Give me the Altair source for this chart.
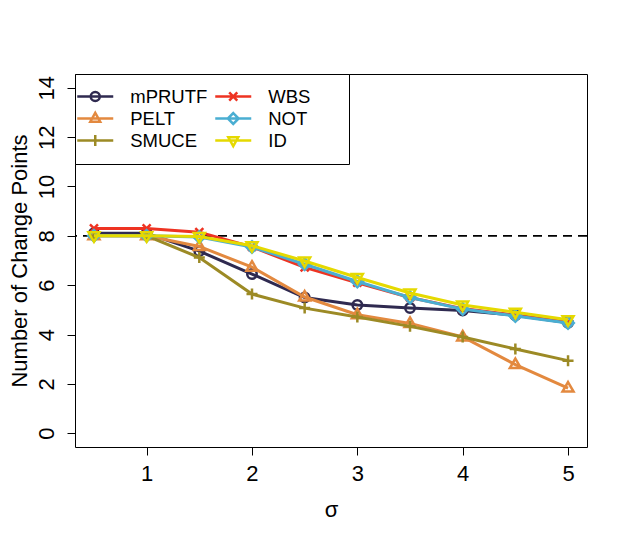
import altair as alt
import pandas as pd

# ---- data ----
sigma = [0.5, 1.0, 1.5, 2.0, 2.5, 3.0, 3.5, 4.0, 4.5, 5.0]
methods = ["mPRUTF", "PELT", "SMUCE", "WBS", "NOT", "ID"]
mprutf = [8.10, 8.10, 7.38, 6.45, 5.50, 5.20, 5.07, 4.97, 4.78, 4.48]
pelt = [8.00, 8.00, 7.57, 6.73, 5.52, 4.80, 4.45, 3.90, 2.78, 1.83]
smuce = [8.00, 8.00, 7.12, 5.64, 5.07, 4.71, 4.33, 3.90, 3.41, 2.94]
wbs = [8.30, 8.30, 8.15, 7.55, 6.72, 6.10, 5.50, 5.05, 4.78, 4.50]
not_ = [8.00, 8.00, 7.95, 7.55, 6.85, 6.15, 5.50, 5.03, 4.75, 4.47]
idm = [8.00, 8.00, 7.97, 7.60, 6.98, 6.31, 5.68, 5.20, 4.90, 4.60]
series = [mprutf, pelt, smuce, wbs, not_, idm]
colors = ["#2F2A50", "#E3893F", "#9C8A25", "#EE3322", "#4AAED2", "#E5D900"]
true_cp = [8]
x_ticks = [1, 2, 3, 4, 5]
y_ticks = [0, 2, 4, 6, 8, 10, 12, 14]

# marker outlines (R pch 1..6)
plot_paths = [
    "M-0.95,0A0.95,0.95 0 1,0 0.95,0A0.95,0.95 0 1,0 -0.95,0Z",
    "M0,-1.2L1.1,0.7L-1.1,0.7Z",
    "M-1.1,0H1.1M0,-1.1V1.1",
    "M-0.8,-0.8L0.8,0.8M-0.8,0.8L0.8,-0.8",
    "M0,-1.15L1.15,0L0,1.15L-1.15,0Z",
    "M0,1.2L1.1,-0.7L-1.1,-0.7Z",
]
legend_paths = [
    "M-2,0H2M-0.5,0A0.5,0.5 0 1,0 0.5,0A0.5,0.5 0 1,0 -0.5,0Z",
    "M-2,0H2M0,-0.62L0.55,0.36L-0.55,0.36Z",
    "M-2,0H2M0,-0.6V0.6",
    "M-2,0H2M-0.45,-0.45L0.45,0.45M-0.45,0.45L0.45,-0.45",
    "M-2,0H2M0,-0.6L0.6,0L0,0.6L-0.6,0Z",
    "M-2,0H2M0,0.62L0.55,-0.36L-0.55,-0.36Z",
]
legend_order = methods  # legend fills column-wise, 3 rows x 2 columns

FONT = "Liberation Sans"
xs = alt.Scale(domain=[0.32, 5.18], nice=False, zero=False)
ys = alt.Scale(domain=[-0.56, 14.56], nice=False, zero=False)
x_axis = alt.Axis(values=x_ticks, title="σ", format="d", titleY=69, titleBaseline="alphabetic",
                  labelPadding=8, labelBaseline="top")
y_axis = alt.Axis(values=y_ticks, title="Number of Change Points", format="d",
                  labelAngle=270, labelAlign="center", labelBaseline="alphabetic",
                  labelPadding=14, titleAngle=270, titleX=-49, titleBaseline="alphabetic")

layers = []
ref = alt.Chart(pd.DataFrame({"y": true_cp})).mark_rule(
    color="black", strokeDash=[9, 6], strokeWidth=1.8
).encode(y=alt.Y("y:Q", scale=ys, axis=y_axis))
layers.append(ref)

for name, vals, col, path in zip(methods, series, colors, plot_paths):
    df = pd.DataFrame({"sigma": sigma, "value": vals, "method": name})
    base = alt.Chart(df).encode(
        x=alt.X("sigma:Q", scale=xs, axis=x_axis),
        y=alt.Y("value:Q", scale=ys, axis=y_axis),
    )
    layers.append(base.mark_line(color=col, strokeWidth=3))
    layers.append(base.mark_point(shape=path, size=100, filled=False, strokeWidth=2.5,
                                  color=col, opacity=1))

leg = alt.Legend(
    title=" ", titleOrient="right", titlePadding=27, titleFontSize=8,
    orient="none", legendX=0, legendY=0, columns=2,
    symbolSize=324, symbolStrokeWidth=2.5, symbolOffset=-2.25, labelOffset=24.5,
    labelFont=FONT, labelFontSize=18.5, labelColor="black", rowPadding=1,
    columnPadding=2, padding=12, strokeColor="black", fillColor="white",
)
leg_df = pd.DataFrame({"method": legend_order, "x": [-1.0] * 6, "y": [8.0] * 6})
legend_layer = alt.Chart(leg_df).mark_point(filled=False, clip=True, strokeWidth=2.5, opacity=1).encode(
    x=alt.X("x:Q", scale=xs, axis=x_axis),
    y=alt.Y("y:Q", scale=ys, axis=y_axis),
    color=alt.Color("method:N", scale=alt.Scale(domain=legend_order, range=colors),
                    legend=leg, sort=legend_order),
    shape=alt.Shape("method:N", scale=alt.Scale(domain=legend_order, range=legend_paths),
                    legend=leg, sort=legend_order),
)
layers.append(legend_layer)

chart = alt.layer(*layers).properties(
    width=512, height=373,
    autosize=alt.AutoSizeParams(type="none"),
    padding={"left": 67, "top": 66, "right": 35, "bottom": 85},
    background="white",
).configure_view(stroke="black", strokeWidth=1).configure_axis(
    grid=False, domain=False, tickColor="black", tickSize=8, tickWidth=1,
    labelFont=FONT, labelFontSize=22, labelColor="black",
    titleFont=FONT, titleFontSize=22, titleFontWeight="normal", titleColor="black",
)

chart.save("out.html", embed_options={"renderer": "svg", "actions": False})
